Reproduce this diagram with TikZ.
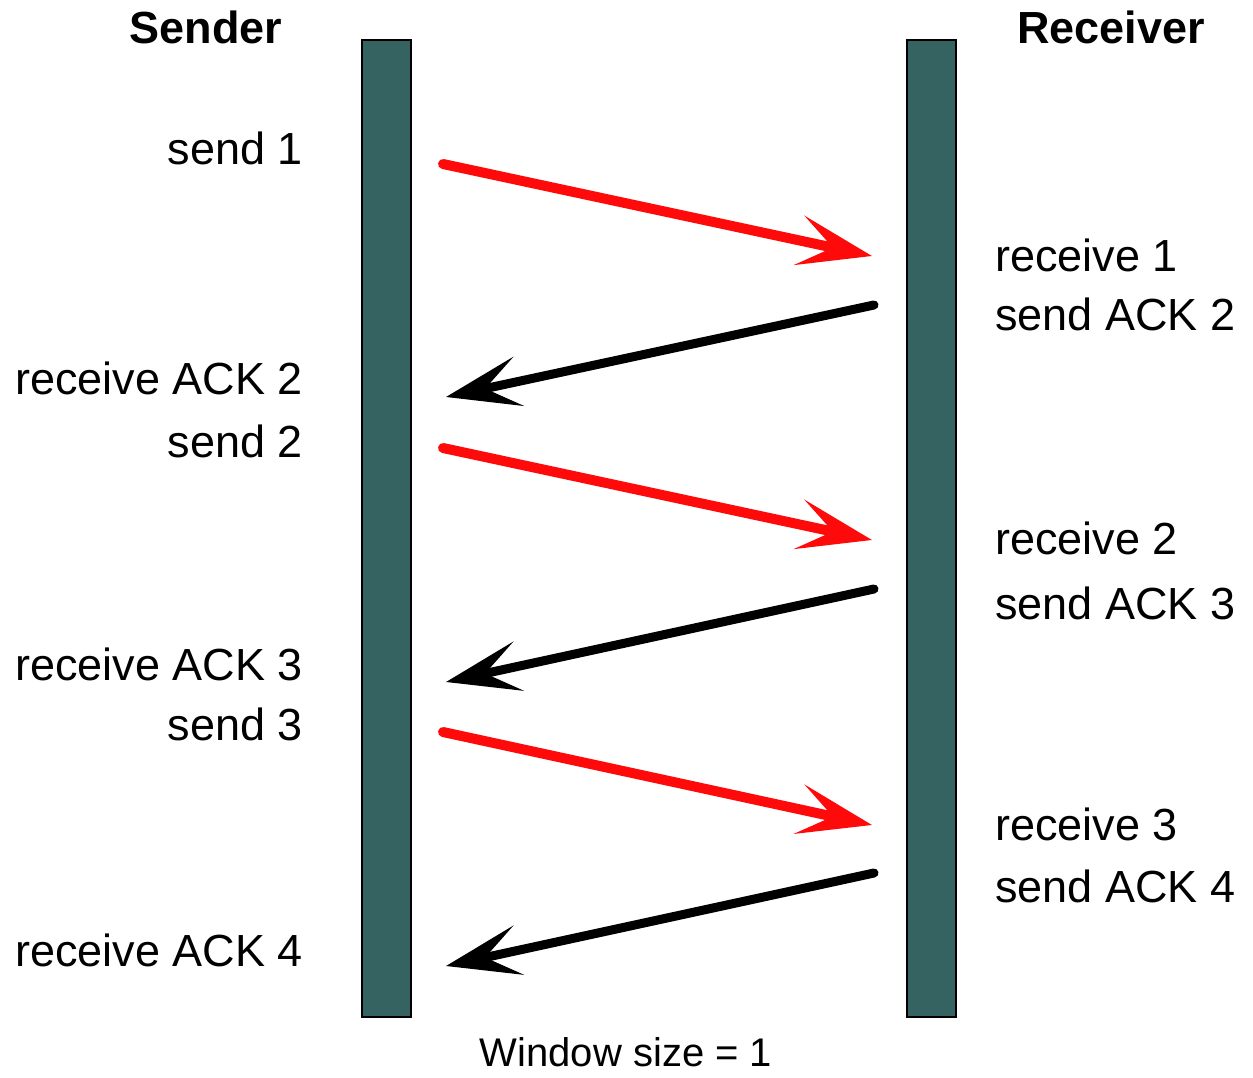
\documentclass[tikz,border=0pt]{standalone}
\usepackage{fontspec}
\setmainfont{Liberation Sans}
\usetikzlibrary{arrows.meta}
\definecolor{lifeline}{RGB}{52,99,97}
\definecolor{msgred}{RGB}{255,10,10}
\begin{document}
\begin{tikzpicture}[x=1pt,y=-1pt,
  lane/.style={draw=black,line width=2.5pt,fill=lifeline},
  lbl/.style={inner sep=0pt,font=\fontsize{45}{54}\selectfont},
  head/.style={inner sep=0pt,font=\fontsize{45}{54}\selectfont\bfseries},
  datamsg/.style={draw=msgred,line width=10pt,line cap=round,
    -{Stealth[length=74pt,width=50pt,inset=34pt]}},
  ackmsg/.style={draw=black,line width=9pt,line cap=round,
    -{Stealth[length=74pt,width=50pt,inset=34pt]}}]
\useasboundingbox (0,0) rectangle (1253,1078);
\fill[white] (0,0) rectangle (1253,1078);

% lifelines
\draw[lane] (362,40) rectangle (411,1017);
\draw[lane] (907,40) rectangle (956,1017);

% headings
\node[head,anchor=base] (snd) at (206,44) {Sender};
\node[head,anchor=base] (rcv) at (1111,44) {Receiver};

% sender side events
\node[lbl,anchor=base east] (s1) at (303,165) {send 1};
\node[lbl,anchor=base east] (ra2) at (303,394) {receive ACK 2};
\node[lbl,anchor=base east] (s2) at (303,457) {send 2};
\node[lbl,anchor=base east] (ra3) at (303,680) {receive ACK 3};
\node[lbl,anchor=base east] (s3) at (303,740) {send 3};
\node[lbl,anchor=base east] (ra4) at (303,966) {receive ACK 4};

% receiver side events
\node[lbl,anchor=base west] (r1) at (995,271) {receive 1};
\node[lbl,anchor=base west] (sa2) at (995,330) {send ACK 2};
\node[lbl,anchor=base west] (r2) at (995,554) {receive 2};
\node[lbl,anchor=base west] (sa3) at (995,619) {send ACK 3};
\node[lbl,anchor=base west] (r3) at (995,840) {receive 3};
\node[lbl,anchor=base west] (sa4) at (995,902) {send ACK 4};

\node[inner sep=0pt,font=\fontsize{40}{48}\selectfont,anchor=base] (win) at (626,1066) {Window size = 1};

% message end points
\coordinate (d1a) at (443,164);  \coordinate (d1b) at (872,256);
\coordinate (k1a) at (874,305);  \coordinate (k1b) at (446,397);
\coordinate (d2a) at (443,448);  \coordinate (d2b) at (872,540);
\coordinate (k2a) at (874,589);  \coordinate (k2b) at (446,682);
\coordinate (d3a) at (443,732);  \coordinate (d3b) at (872,825);
\coordinate (k3a) at (874,873);  \coordinate (k3b) at (446,966);

% messages
\draw[datamsg] (d1a) -- (d1b);
\draw[ackmsg] (k1a) -- (k1b);
\draw[datamsg] (d2a) -- (d2b);
\draw[ackmsg] (k2a) -- (k2b);
\draw[datamsg] (d3a) -- (d3b);
\draw[ackmsg] (k3a) -- (k3b);
\end{tikzpicture}
\end{document}
